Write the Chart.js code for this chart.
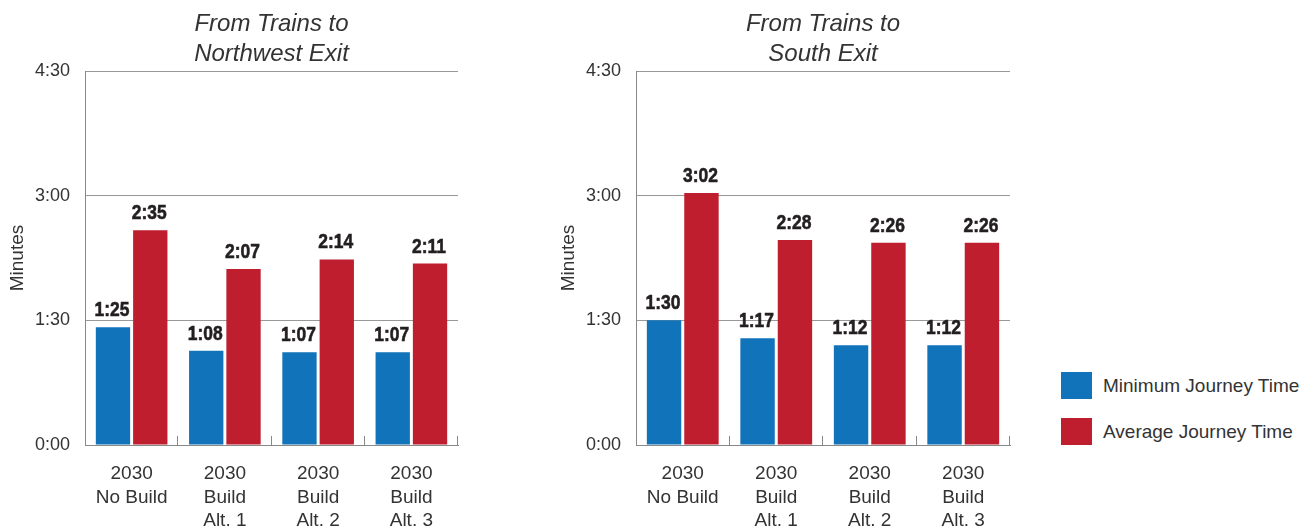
<!DOCTYPE html>
<html>
<head>
<meta charset="utf-8">
<title>Journey Times</title>
<script src="https://cdn.jsdelivr.net/npm/chart.js@4.4.0/dist/chart.umd.min.js"></script>
<style>
  body {
    margin: 0;
    background: #fff;
    width: 1314px;
    height: 529px;
    overflow: hidden;
    position: relative;
    font-family: "Liberation Sans", Arial, sans-serif;
  }
  canvas { position: absolute; top: 0; }
  #nw-chart { left: 0; }
  #south-chart { left: 551px; }
  .legend { position: absolute; left: 1061px; top: 372px; }
  .legend-item {
    display: flex;
    align-items: center;
    height: 27px;
    margin-bottom: 19px;
    font-size: 19px;
    color: #333;
  }
  .swatch { width: 31px; height: 27px; margin-right: 11px; }
</style>
</head>
<body>
<canvas id="nw-chart" width="470" height="529"></canvas>
<canvas id="south-chart" width="471" height="529"></canvas>
<div class="legend" id="legend"></div>

<script>
// Categories and series
const categories = [
    ['2030', 'No Build'],
    ['2030', 'Build', 'Alt. 1'],
    ['2030', 'Build', 'Alt. 2'],
    ['2030', 'Build', 'Alt. 3']
];
const seriesNames = ['Minimum Journey Time', 'Average Journey Time'];
const seriesColors = ['#1173ba', '#be1e2d'];

// Journey times in seconds
const northwestMin = [85, 68, 67, 67];
const northwestAvg = [155, 127, 134, 131];
const southMin = [90, 77, 72, 72];
const southAvg = [182, 148, 146, 146];

// Axis range and tick step (seconds)
const yMax = 270;
const yStep = 90;

Chart.defaults.font.family = '"Liberation Sans", Arial, sans-serif';
Chart.defaults.color = '#333';

// Seconds -> m:ss
function formatTime(sec) {
    const m = Math.floor(sec / 60);
    const s = sec % 60;
    return m + ':' + String(s).padStart(2, '0');
}

// Bold value above every bar
const valueLabels = {
    id: 'valueLabels',
    afterDatasetsDraw(chart) {
        const ctx = chart.ctx;
        ctx.save();
        ctx.font = 'bold 21px "Liberation Sans", Arial, sans-serif';
        ctx.fillStyle = '#231f20';
        ctx.strokeStyle = '#231f20';
        ctx.lineWidth = 0.6;
        ctx.textAlign = 'center';
        ctx.textBaseline = 'alphabetic';
        chart.data.datasets.forEach((ds, i) => {
            chart.getDatasetMeta(i).data.forEach((bar, j) => {
                const text = formatTime(ds.data[j]);
                ctx.save();
                ctx.translate(bar.x - 1, bar.y - 11);
                ctx.scale(0.83, 1); // condensed look
                ctx.fillText(text, 0, 0);
                ctx.strokeText(text, 0, 0);
                ctx.restore();
            });
        });
        ctx.restore();
    }
};

// Short upward ticks between categories on the x axis
const categoryTicks = {
    id: 'categoryTicks',
    afterDraw(chart) {
        const ctx = chart.ctx;
        const xScale = chart.scales.x;
        const area = chart.chartArea;
        const n = chart.data.labels.length;
        ctx.save();
        ctx.strokeStyle = '#888';
        ctx.lineWidth = 1;
        for (let i = 1; i <= n; i++) {
            let px = i < n
                ? (xScale.getPixelForValue(i - 1) + xScale.getPixelForValue(i)) / 2
                : area.right;
            px = Math.round(px) - 0.5;
            ctx.beginPath();
            ctx.moveTo(px, area.bottom - 9);
            ctx.lineTo(px, area.bottom);
            ctx.stroke();
        }
        ctx.restore();
    }
};

function buildChart(canvasId, titleLines, minData, avgData) {
    const ctx = document.getElementById(canvasId).getContext('2d');
    return new Chart(ctx, {
        type: 'bar',
        data: {
            labels: categories,
            datasets: [
                { label: seriesNames[0], data: minData, backgroundColor: seriesColors[0] },
                { label: seriesNames[1], data: avgData, backgroundColor: seriesColors[1] }
            ]
        },
        options: {
            responsive: false,
            animation: false,
            layout: { padding: { left: 0, right: 12, top: 0, bottom: 0 } },
            datasets: {
                bar: { barPercentage: 0.92, categoryPercentage: 0.8, borderWidth: 0 }
            },
            plugins: {
                legend: { display: false },
                tooltip: { enabled: false },
                title: {
                    display: true,
                    text: titleLines,
                    fullSize: false,
                    color: '#333',
                    font: { size: 24, style: 'italic', weight: 'normal', lineHeight: 1.23 },
                    padding: { top: 10, bottom: 2 }
                }
            },
            scales: {
                x: {
                    grid: { display: false },
                    border: { display: true, color: '#888', width: 1 },
                    ticks: {
                        color: '#333',
                        font: { size: 19, lineHeight: 1.24 },
                        padding: 9,
                        maxRotation: 0,
                        autoSkip: false
                    },
                    afterFit(scale) { scale.height = 84; }
                },
                y: {
                    min: 0,
                    max: yMax,
                    grid: { color: '#999', lineWidth: 1, drawTicks: false },
                    border: { display: true, color: '#888', width: 1 },
                    ticks: {
                        stepSize: yStep,
                        padding: 15,
                        color: '#333',
                        font: { size: 18 },
                        callback: v => formatTime(v)
                    },
                    title: {
                        display: true,
                        text: 'Minutes',
                        color: '#333',
                        font: { size: 19 },
                        padding: { top: 6, bottom: 0 }
                    },
                    afterFit(scale) { scale.width = 85; }
                }
            }
        },
        plugins: [valueLabels, categoryTicks]
    });
}

const northwestChart = buildChart('nw-chart', ['From Trains to', 'Northwest Exit'], northwestMin, northwestAvg);
const southChart = buildChart('south-chart', ['From Trains to', 'South Exit'], southMin, southAvg);

// Shared legend
const legend = document.getElementById('legend');
seriesNames.forEach((name, i) => {
    const item = document.createElement('div');
    item.className = 'legend-item';
    const swatch = document.createElement('div');
    swatch.className = 'swatch';
    swatch.style.background = seriesColors[i];
    const label = document.createElement('span');
    label.textContent = name;
    item.appendChild(swatch);
    item.appendChild(label);
    legend.appendChild(item);
});
</script>
</body>
</html>
